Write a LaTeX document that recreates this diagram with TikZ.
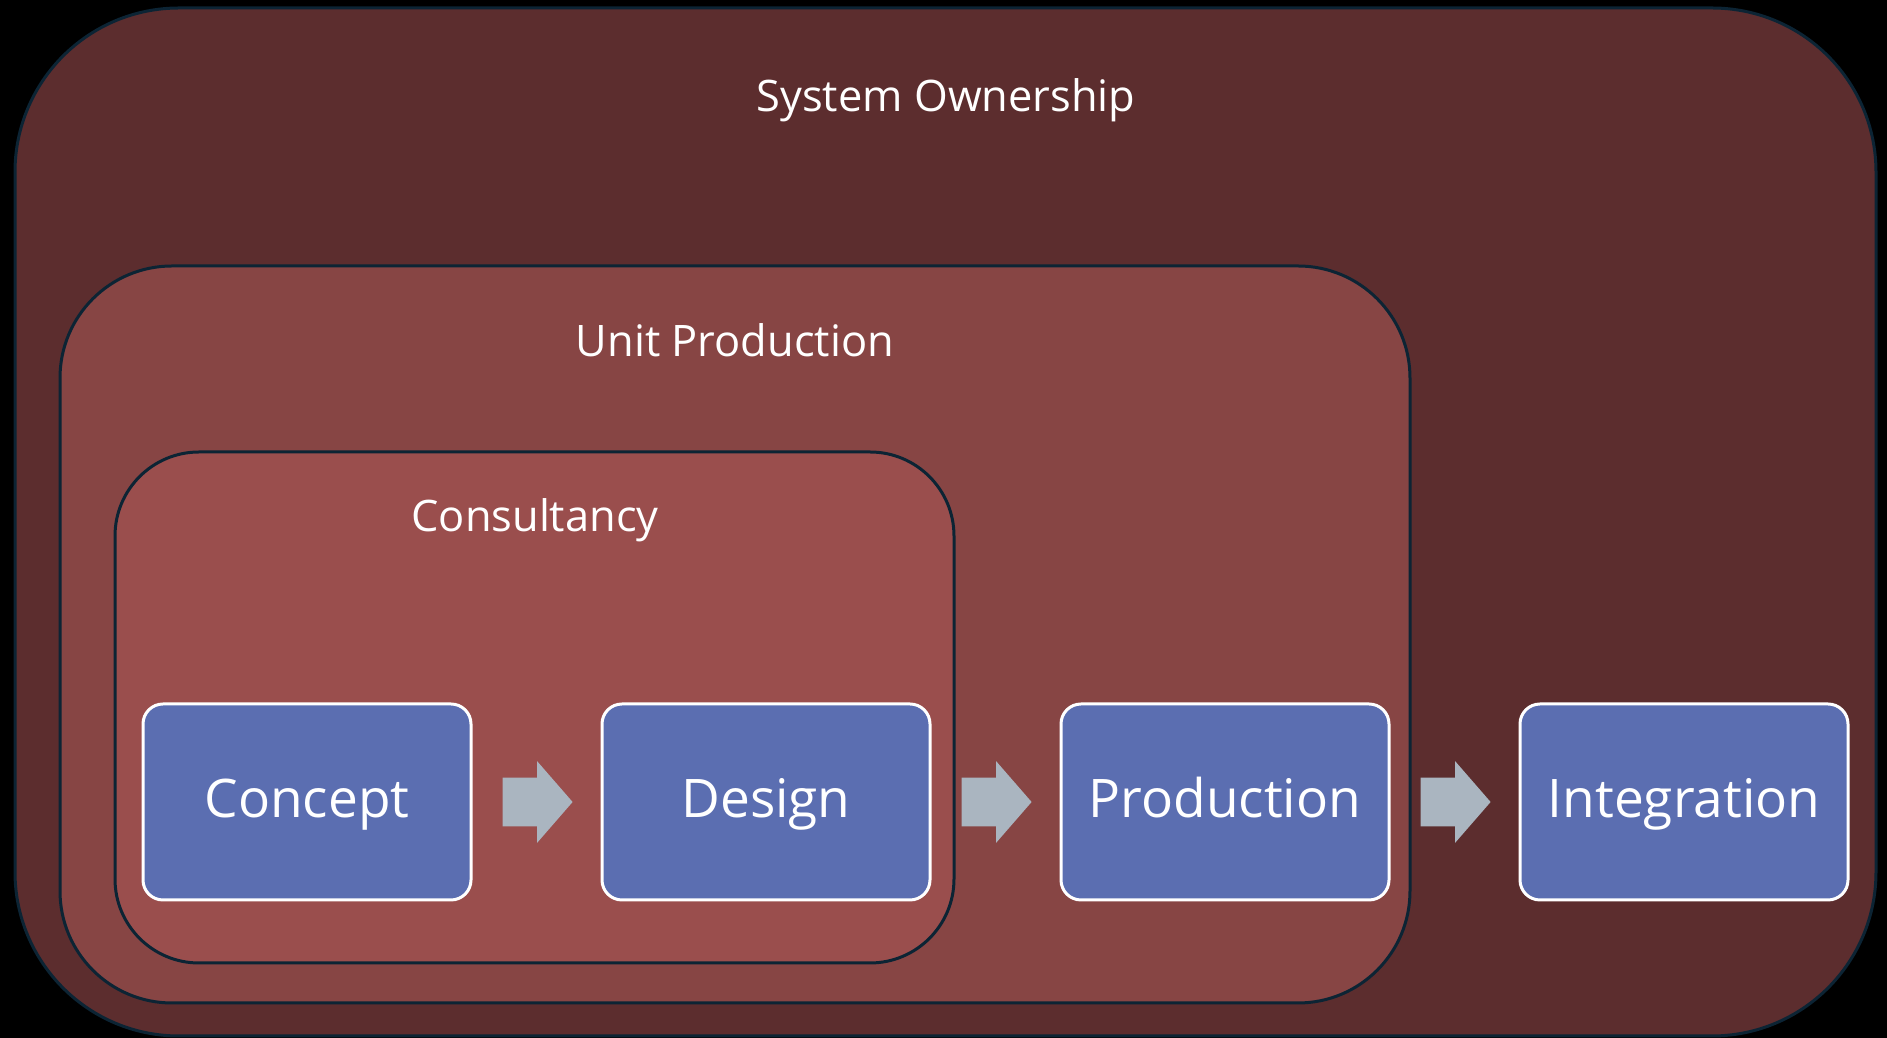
\documentclass[tikz,border=0pt]{standalone}
\usepackage{fontspec}
\setmainfont{Open Sans}
\usetikzlibrary{positioning,shapes.arrows}
\definecolor{ownfill}{HTML}{5C2D2E}
\definecolor{unitfill}{HTML}{874544}
\definecolor{consfill}{HTML}{9A4E4D}
\definecolor{stepfill}{HTML}{5B6EB1}
\definecolor{arrowfill}{HTML}{AAB5C0}
\definecolor{edgeline}{HTML}{0C2434}
\begin{document}
\begin{tikzpicture}[x=0.5pt,y=0.5pt,node distance=229.5pt,on grid,
		area/.style={draw=edgeline,line width=1.5pt,rectangle,inner sep=0pt},
		title/.style={text=white,anchor=base,font=\fontsize{21.7}{26}\selectfont},
		stage/.style={draw=white,line width=1.5pt,fill=stepfill,rounded corners=10pt,
			minimum width=164pt,minimum height=98pt,text height=19pt,text depth=3pt,
			text=white,font=\fontsize{26.6}{32}\selectfont},
		flow/.style={single arrow,fill=arrowfill,inner sep=0pt,text height=12pt,text depth=12pt,
			single arrow head extend=8.25pt,single arrow tip angle=98,minimum height=35pt}]
				\fill[black] (0,0) rectangle (1887,1038);
				\node[area,fill=ownfill,rounded corners=82pt,minimum width=930.5pt,minimum height=514pt] (own) at (945.5,516) {};
				\node[area,fill=unitfill,rounded corners=56pt,minimum width=675pt,minimum height=368.5pt] (unit) at (735,403.5) {};
				\node[area,fill=consfill,rounded corners=42pt,minimum width=419.5pt,minimum height=255.5pt] (cons) at (534.5,330.5) {};
				\node[title] (own_t) at (946,926) {System Ownership};
				\node[title] (unit_t) at (735,681) {Unit Production};
				\node[title] (cons_t) at (535,506) {Consultancy};
				\node[stage] (concept) at (307,236) {Concept};
				\node[stage] (design) [right=of concept] {Design};
				\node[stage] (production) [right=of design] {Production};
				\node[stage] (integration) [right=of production] {Integration};
				\node[flow] (a_1) [right=110pt of concept] {};
				\node[flow] (a_2) [right=110pt of design] {};
				\node[flow] (a_3) [right=110pt of production] {};
			\end{tikzpicture}
\end{document}
